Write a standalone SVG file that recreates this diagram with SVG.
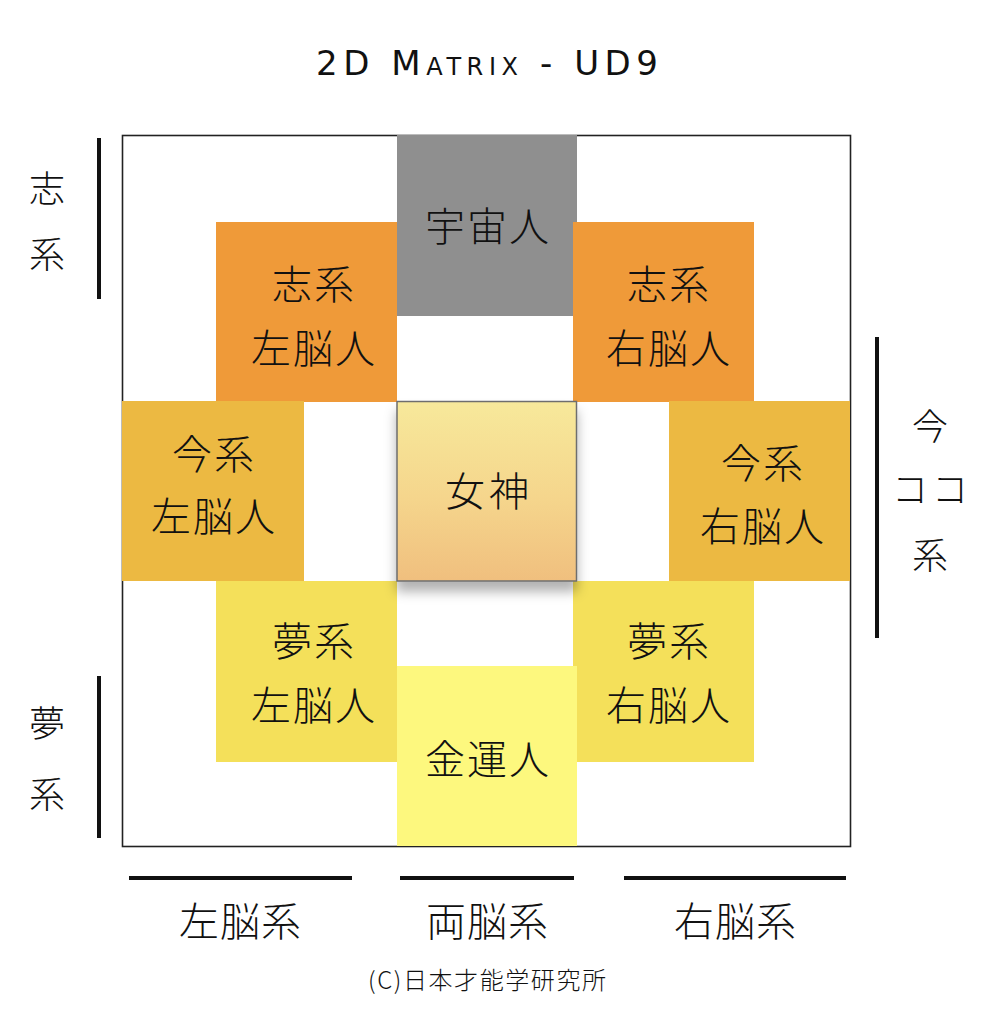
<svg xmlns="http://www.w3.org/2000/svg" width="986" height="1024" viewBox="0 0 986 1024">
<defs>
<style>
.j{font-family:"Noto Sans CJK JP","Noto Sans CJK SC",sans-serif;font-weight:300;fill:#111;text-anchor:middle}
.b{font-size:40px}
.s{font-size:36px}
.bar{stroke:#111;stroke-width:4;stroke-linecap:butt}
</style>
<linearGradient id="gd" x1="0" y1="0" x2="0" y2="1">
<stop offset="0" stop-color="#f7e99b"/>
<stop offset="0.55" stop-color="#f5d58c"/>
<stop offset="1" stop-color="#f0bf7e"/>
</linearGradient>
<filter id="sh" x="-20%" y="-20%" width="140%" height="150%">
<feDropShadow dx="0" dy="10" stdDeviation="6" flood-color="#000" flood-opacity="0.3"/>
</filter>
</defs>
<rect width="986" height="1024" fill="#fff"/>
<text x="487" y="75" font-family="DejaVu Sans, sans-serif" font-size="34" font-variant="small-caps" textLength="342" lengthAdjust="spacing" text-anchor="middle" fill="#111">2D Matrix - UD9</text>
<rect id="frame" x="122.5" y="135.5" width="728" height="711" fill="#fff" stroke="#222" stroke-width="1.6"/>
<g id="uchujin"><rect x="397" y="135" width="180" height="181" fill="#8f8f8f"/><text class="j b" x="487" y="241" textLength="124" lengthAdjust="spacing">宇宙人</text></g>
<g id="shi-left"><rect x="216" y="222" width="181" height="180" fill="#ef9a39"/><text class="j b" x="313" y="299" textLength="82" lengthAdjust="spacing">志系</text><text class="j b" x="313" y="363" textLength="124" lengthAdjust="spacing">左脳人</text></g>
<g id="shi-right"><rect x="573" y="222" width="181" height="180" fill="#ef9a39"/><text class="j b" x="668" y="299" textLength="82" lengthAdjust="spacing">志系</text><text class="j b" x="668" y="363" textLength="124" lengthAdjust="spacing">右脳人</text></g>
<g id="ima-left"><rect x="122" y="401" width="182" height="180" fill="#ecb942"/><text class="j b" x="213" y="469" textLength="82" lengthAdjust="spacing">今系</text><text class="j b" x="213" y="531" textLength="124" lengthAdjust="spacing">左脳人</text></g>
<g id="ima-right"><rect x="669" y="401" width="181" height="180" fill="#ecb942"/><text class="j b" x="762" y="478" textLength="82" lengthAdjust="spacing">今系</text><text class="j b" x="762" y="541" textLength="124" lengthAdjust="spacing">右脳人</text></g>
<g id="yume-left"><rect x="216" y="581" width="181" height="181" fill="#f4e05a"/><text class="j b" x="313" y="656" textLength="82" lengthAdjust="spacing">夢系</text><text class="j b" x="313" y="720" textLength="124" lengthAdjust="spacing">左脳人</text></g>
<g id="yume-right"><rect x="573" y="581" width="181" height="181" fill="#f4e05a"/><text class="j b" x="668" y="656" textLength="82" lengthAdjust="spacing">夢系</text><text class="j b" x="668" y="720" textLength="124" lengthAdjust="spacing">右脳人</text></g>
<g id="kinunjin"><rect x="397" y="666" width="180" height="180" fill="#fdf87e"/><text class="j b" x="487" y="774" textLength="124" lengthAdjust="spacing">金運人</text></g>
<g id="megami"><rect x="397" y="401.5" width="179.5" height="179.5" fill="url(#gd)" stroke="#6e6e6e" stroke-width="1.5" filter="url(#sh)"/><text class="j b" x="487" y="506" textLength="84" lengthAdjust="spacing">女神</text></g>
<g id="axis-shi"><line class="bar" x1="99" y1="138" x2="99" y2="299"/><text class="j s" x="47" y="202">志</text><text class="j s" x="47" y="268">系</text></g>
<g id="axis-yume"><line class="bar" x1="99" y1="676" x2="99" y2="838"/><text class="j s" x="47" y="737">夢</text><text class="j s" x="47" y="808">系</text></g>
<g id="axis-ima"><line class="bar" x1="877" y1="337" x2="877" y2="638"/><text class="j s" x="930" y="440">今</text><text class="j s" x="930" y="503" textLength="76" lengthAdjust="spacing">コ コ</text><text class="j s" x="930" y="569">系</text></g>
<g id="axis-left"><line class="bar" x1="129" y1="878" x2="352" y2="878"/><text class="j b" x="240" y="936" textLength="122" lengthAdjust="spacing">左脳系</text></g>
<g id="axis-both"><line class="bar" x1="400" y1="878" x2="574" y2="878"/><text class="j b" x="487" y="936" textLength="122" lengthAdjust="spacing">両脳系</text></g>
<g id="axis-right"><line class="bar" x1="624" y1="878" x2="846" y2="878"/><text class="j b" x="735" y="936" textLength="122" lengthAdjust="spacing">右脳系</text></g>
<text class="j" x="487" y="989" font-size="24" textLength="238" lengthAdjust="spacing">(C)日本才能学研究所</text>
</svg>
